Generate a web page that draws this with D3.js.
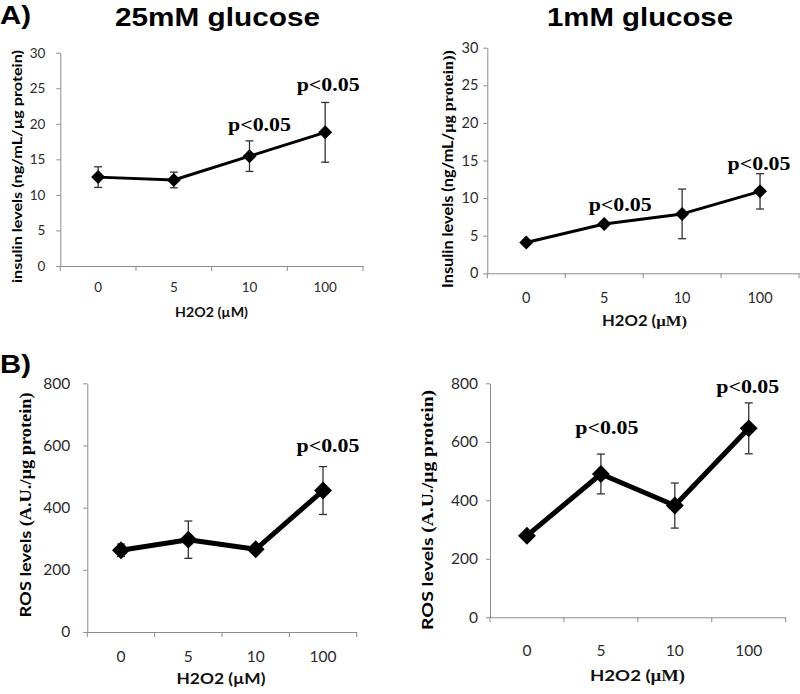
<!DOCTYPE html>
<html>
<head>
<meta charset="utf-8">
<script src="https://cdn.jsdelivr.net/npm/d3@7"></script>
<style>
  html, body { margin: 0; padding: 0; background: #ffffff; }
  svg { display: block; }
</style>
</head>
<body>
<svg id="chart" width="800" height="694"></svg>
<script>
// ---------- data ----------
const doses = ["0", "5", "10", "100"];
const insulinTicks = [0, 5, 10, 15, 20, 25, 30];
const rosTicks = [0, 200, 400, 600, 800];

const insulin25 = [12.5, 12.1, 15.45, 18.8];
const insulin25Err = [1.45, 1.1, 2.15, 4.2];
const insulin1 = [4.1, 6.55, 7.9, 10.9];
const insulin1Err = [0.3, 0.3, 3.3, 2.35];
const ros25 = [263, 297, 266, 455];
const ros25Err = [20, 60, 13, 77];
const ros1 = [279, 490, 382, 646];
const ros1Err = [10, 68, 77, 87];

const sigText = "p<0.05";
const sig25Insulin = ["10", "100"];
const sig1Insulin = ["5", "100"];
const sig25Ros = ["100"];
const sig1Ros = ["5", "100"];

const titles = ["25mM glucose", "1mM glucose"];
const panelLetters = ["A)", "B)"];

// ---------- layout ----------
const SANS = "Lato, 'Open Sans', 'Liberation Sans', sans-serif";
const SERIF = "'Liberation Serif', 'DejaVu Serif', serif";
const ARIAL = "'Liberation Sans', Arial, sans-serif";
const AXIS_COLOR = "#8c8c8c";
const TICK_TEXT = "#2b2b2b";

const panels = [
  { values: insulin25, errs: insulin25Err, ticks: insulinTicks, sig: sig25Insulin,
    L: 60.3, R: 363, T: 52.7, B: 266, tickFont: 13.5, yPad: 11, xPad: 16, xFont: 13.5,
    sigOff: [[10, -10], [3, -11]], line: 3, marker: 98,
    ylab: { parts: [["insulin levels (ng/mL/µg protein)", SANS]], x: 22, cy: 166.5, len: 233, size: 13.5 },
    xlab: { parts: [["H2O2 (µM)", SANS]], cx: 211.5, y: 317, len: 73, size: 14 } },
  { values: insulin1, errs: insulin1Err, ticks: insulinTicks, sig: sig1Insulin,
    L: 487.3, R: 799, T: 47.7, B: 273.3, tickFont: 14.5, yPad: 5, xPad: 19, xFont: 14.5,
    sigOff: [[16, -11], [-1, -4]], line: 3, marker: 98,
    ylab: { parts: [["Insulin levels (ng/mL/", SANS], ["µg protein))", SERIF]], x: 453, cy: 169, len: 238, size: 15 },
    xlab: { parts: [["H2O2 (", SANS], ["µM)", SERIF]], cx: 644.5, y: 326, len: 85, size: 15 } },
  { values: ros25, errs: ros25Err, ticks: rosTicks, sig: sig25Ros,
    L: 87.3, R: 356.7, T: 383.3, B: 632, tickFont: 15.5, yPad: 13, xPad: 19, xFont: 15.5,
    sigOff: [[5, -15]], line: 5, marker: 160,
    ylab: { parts: [["ROS levels ", SANS], ["(A.U./µg protein)", SERIF]], x: 31, cy: 505, len: 225, size: 16 },
    xlab: { parts: [["H2O2 (µM)", SANS]], cx: 221, y: 684, len: 89, size: 16 } },
  { values: ros1, errs: ros1Err, ticks: rosTicks, sig: sig1Ros,
    L: 490, R: 785.7, T: 383.3, B: 617.3, tickFont: 15.5, yPad: 8, xPad: 28, xFont: 15.5,
    sigOff: [[6, -20], [-1, -10]], line: 5, marker: 160,
    ylab: { parts: [["ROS levels ", SANS], ["(A.U./µg protein)", SERIF]], x: 433, cy: 510, len: 240, size: 16 },
    xlab: { parts: [["H2O2 (", SANS], ["µM)", SERIF]], cx: 637.5, y: 681, len: 95, size: 16 } }
];

const svg = d3.select("#chart");

// headings
const titleLayout = [{ cx: 217.5, y: 26, len: 205 }, { cx: 640, y: 26, len: 186 }];
titles.forEach((t, i) => {
  svg.append("text").attr("x", titleLayout[i].cx).attr("y", titleLayout[i].y)
    .attr("text-anchor", "middle").attr("font-family", ARIAL).attr("font-weight", "bold")
    .attr("font-size", 25).attr("textLength", titleLayout[i].len)
    .attr("lengthAdjust", "spacingAndGlyphs").attr("fill", "#000").text(t);
});
const letterLayout = [{ x: 0, y: 24 }, { x: 0, y: 373 }];
panelLetters.forEach((t, i) => {
  svg.append("text").attr("x", letterLayout[i].x).attr("y", letterLayout[i].y)
    .attr("font-family", ARIAL).attr("font-weight", "bold").attr("font-size", 25)
    .attr("textLength", 31).attr("lengthAdjust", "spacingAndGlyphs").attr("fill", "#000").text(t);
});

panels.forEach(p => {
  const x = d3.scaleBand().domain(doses).range([p.L, p.R]).paddingInner(0).paddingOuter(0);
  const y = d3.scaleLinear().domain([0, d3.max(p.ticks)]).range([p.B, p.T]);
  const cx = d => x(d) + x.bandwidth() / 2;

  const g = svg.append("g");

  // y axis
  const yAx = g.append("g").attr("transform", `translate(${p.L},0)`)
    .call(d3.axisLeft(y).tickValues(p.ticks).tickSize(4).tickSizeOuter(0).tickPadding(p.yPad));
  yAx.selectAll("path, line").attr("stroke", AXIS_COLOR);
  yAx.selectAll("text").attr("font-family", SANS).attr("font-size", p.tickFont).attr("fill", TICK_TEXT);

  // x axis
  const xAx = g.append("g").attr("transform", `translate(0,${p.B})`)
    .call(d3.axisBottom(x).tickSize(0).tickSizeOuter(0).tickPadding(p.xPad));
  xAx.selectAll("path").attr("stroke", AXIS_COLOR);
  xAx.selectAll("text").attr("font-family", SANS).attr("font-size", p.xFont).attr("fill", TICK_TEXT);
  const bounds = doses.map(d => x(d)).concat([x.range()[1]]);
  xAx.selectAll("line.bound").data(bounds).enter().append("line")
    .attr("class", "bound").attr("x1", d => d).attr("x2", d => d)
    .attr("y1", 0).attr("y2", 5).attr("stroke", AXIS_COLOR);

  // axis titles
  const yl = g.append("text")
    .attr("transform", `translate(${p.ylab.x},${p.ylab.cy}) rotate(-90)`)
    .attr("text-anchor", "middle").attr("font-weight", "bold").attr("font-size", p.ylab.size)
    .attr("textLength", p.ylab.len).attr("lengthAdjust", "spacingAndGlyphs").attr("fill", "#000");
  p.ylab.parts.forEach(([t, f]) => yl.append("tspan").attr("font-family", f).text(t));

  const xl = g.append("text").attr("x", p.xlab.cx).attr("y", p.xlab.y)
    .attr("text-anchor", "middle").attr("font-weight", "bold").attr("font-size", p.xlab.size)
    .attr("textLength", p.xlab.len).attr("lengthAdjust", "spacingAndGlyphs").attr("fill", "#111");
  p.xlab.parts.forEach(([t, f]) => xl.append("tspan").attr("font-family", f).text(t));

  const rows = doses.map((d, i) => ({ d, v: p.values[i], e: p.errs[i] }));

  // error bars
  const eb = g.append("g").attr("stroke", "#333").attr("stroke-width", 1.3);
  rows.forEach(r => {
    eb.append("line").attr("x1", cx(r.d)).attr("x2", cx(r.d)).attr("y1", y(r.v - r.e)).attr("y2", y(r.v + r.e));
    [r.v - r.e, r.v + r.e].forEach(val => {
      eb.append("line").attr("x1", cx(r.d) - 4).attr("x2", cx(r.d) + 4).attr("y1", y(val)).attr("y2", y(val));
    });
  });

  // line
  g.append("path").datum(rows)
    .attr("d", d3.line().x(r => cx(r.d)).y(r => y(r.v)))
    .attr("fill", "none").attr("stroke", "#000").attr("stroke-width", p.line).attr("stroke-linejoin", "round");

  // markers (diamonds)
  g.selectAll("path.mk").data(rows).enter().append("path").attr("class", "mk")
    .attr("d", d3.symbol(d3.symbolSquare, p.marker))
    .attr("transform", r => `translate(${cx(r.d)},${y(r.v)}) rotate(45)`)
    .attr("fill", "#000");

  // significance labels
  p.sig.forEach((d, k) => {
    const i = doses.indexOf(d);
    const [dx, dy] = p.sigOff[k];
    g.append("text").attr("x", cx(d) + dx).attr("y", y(p.values[i] + p.errs[i]) + dy)
      .attr("text-anchor", "middle").attr("font-family", SERIF).attr("font-weight", "bold")
      .attr("font-size", 19).attr("textLength", 63).attr("lengthAdjust", "spacingAndGlyphs")
      .attr("fill", "#000").text(sigText);
  });
});
</script>
</body>
</html>
